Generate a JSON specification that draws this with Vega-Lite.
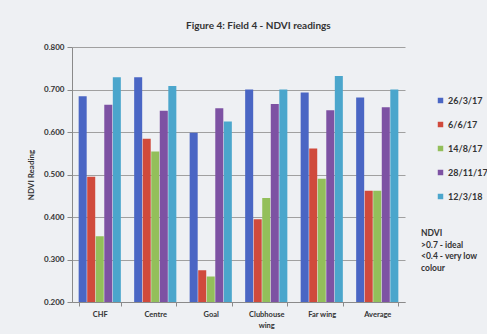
{
  "$schema": "https://vega.github.io/schema/vega-lite/v6.json",
  "width": 333,
  "height": 255,
  "autosize": {"type": "none"},
  "padding": {"left": 72, "top": 47, "right": 82, "bottom": 32},
  "background": "#eef0f3",
  "title": {
    "text": "Figure 4: Field 4 - NDVI readings",
    "font": "Lato",
    "fontSize": 10,
    "fontWeight": "bold",
    "color": "#333333",
    "anchor": "start",
    "frame": "group",
    "dx": 114,
    "offset": 12
  },
  "data": {
    "values": [
      {"site": "CHF", "date": "26/3/17", "ndvi": 0.684},
      {"site": "CHF", "date": "6/6/17", "ndvi": 0.495},
      {"site": "CHF", "date": "14/8/17", "ndvi": 0.355},
      {"site": "CHF", "date": "28/11/17", "ndvi": 0.664},
      {"site": "CHF", "date": "12/3/18", "ndvi": 0.729},
      {"site": "Centre", "date": "26/3/17", "ndvi": 0.729},
      {"site": "Centre", "date": "6/6/17", "ndvi": 0.584},
      {"site": "Centre", "date": "14/8/17", "ndvi": 0.554},
      {"site": "Centre", "date": "28/11/17", "ndvi": 0.650},
      {"site": "Centre", "date": "12/3/18", "ndvi": 0.708},
      {"site": "Goal", "date": "26/3/17", "ndvi": 0.598},
      {"site": "Goal", "date": "6/6/17", "ndvi": 0.275},
      {"site": "Goal", "date": "14/8/17", "ndvi": 0.260},
      {"site": "Goal", "date": "28/11/17", "ndvi": 0.656},
      {"site": "Goal", "date": "12/3/18", "ndvi": 0.625},
      {"site": "Clubhouse wing", "date": "26/3/17", "ndvi": 0.700},
      {"site": "Clubhouse wing", "date": "6/6/17", "ndvi": 0.395},
      {"site": "Clubhouse wing", "date": "14/8/17", "ndvi": 0.445},
      {"site": "Clubhouse wing", "date": "28/11/17", "ndvi": 0.666},
      {"site": "Clubhouse wing", "date": "12/3/18", "ndvi": 0.700},
      {"site": "Far wing", "date": "26/3/17", "ndvi": 0.693},
      {"site": "Far wing", "date": "6/6/17", "ndvi": 0.561},
      {"site": "Far wing", "date": "14/8/17", "ndvi": 0.490},
      {"site": "Far wing", "date": "28/11/17", "ndvi": 0.651},
      {"site": "Far wing", "date": "12/3/18", "ndvi": 0.732},
      {"site": "Average", "date": "26/3/17", "ndvi": 0.681},
      {"site": "Average", "date": "6/6/17", "ndvi": 0.462},
      {"site": "Average", "date": "14/8/17", "ndvi": 0.462},
      {"site": "Average", "date": "28/11/17", "ndvi": 0.658},
      {"site": "Average", "date": "12/3/18", "ndvi": 0.700}
    ]
  },
  "mark": {"type": "bar", "clip": true},
  "encoding": {
    "x": {
      "field": "site",
      "type": "nominal",
      "sort": ["CHF", "Centre", "Goal", "Clubhouse wing", "Far wing", "Average"],
      "scale": {"paddingInner": 0.24, "paddingOuter": 0.12},
      "axis": {
        "title": null,
        "labelAngle": 0,
        "labelFont": "Lato",
        "labelFontSize": 7.5,
        "labelFontWeight": "bold",
        "labelColor": "#333333",
        "labelPadding": 4,
        "labelLineHeight": 11,
        "labelExpr": "datum.label == 'Clubhouse wing' ? ['Clubhouse', 'wing'] : datum.label",
        "tickBand": "extent",
        "tickSize": 4,
        "tickColor": "#8a8a8a",
        "domainColor": "#8a8a8a",
        "grid": false
      }
    },
    "xOffset": {
      "field": "date",
      "type": "nominal",
      "sort": ["26/3/17", "6/6/17", "14/8/17", "28/11/17", "12/3/18"],
      "scale": {"paddingInner": 0.06}
    },
    "y": {
      "field": "ndvi",
      "type": "quantitative",
      "scale": {"domain": [0.2, 0.8], "nice": false, "zero": false},
      "axis": {
        "title": "NDVI Reading",
        "titleFont": "Lato",
        "titleFontSize": 8,
        "titleFontWeight": "bold",
        "titleColor": "#333333",
        "titlePadding": 8,
        "values": [0.2, 0.3, 0.4, 0.5, 0.6, 0.7, 0.8],
        "format": ".3f",
        "labelFont": "Lato",
        "labelFontSize": 8,
        "labelFontWeight": "bold",
        "labelColor": "#333333",
        "labelPadding": 3,
        "tickSize": 5,
        "tickColor": "#8a8a8a",
        "domainColor": "#8a8a8a",
        "gridColor": "#a0a0a0",
        "gridWidth": 1
      }
    },
    "color": {
      "field": "date",
      "type": "nominal",
      "sort": ["26/3/17", "6/6/17", "14/8/17", "28/11/17", "12/3/18"],
      "scale": {
        "domain": ["26/3/17", "6/6/17", "14/8/17", "28/11/17", "12/3/18"],
        "range": ["#4a66c4", "#d04a3c", "#93bf5a", "#7d52a3", "#4ba6cc"]
      },
      "legend": {
        "orient": "none",
        "legendX": 349,
        "legendY": 49,
        "title": ["NDVI", ">0.7 - ideal", "<0.4 - very low", "colour"],
        "titleOrient": "bottom",
        "titleAnchor": "start",
        "titleFont": "Lato",
        "titleFontSize": 8.5,
        "titleFontWeight": "bold",
        "titleColor": "#333333",
        "titleLineHeight": 11.5,
        "titlePadding": 27,
        "symbolType": "square",
        "symbolSize": 30,
        "symbolStrokeWidth": 0,
        "symbolOffset": 15,
        "labelFont": "Lato",
        "labelFontSize": 9,
        "labelFontWeight": "bold",
        "labelColor": "#333333",
        "labelOffset": 3,
        "rowPadding": 14
      }
    }
  },
  "config": {
    "view": {"stroke": null},
    "axis": {"domainWidth": 1}
  }
}
